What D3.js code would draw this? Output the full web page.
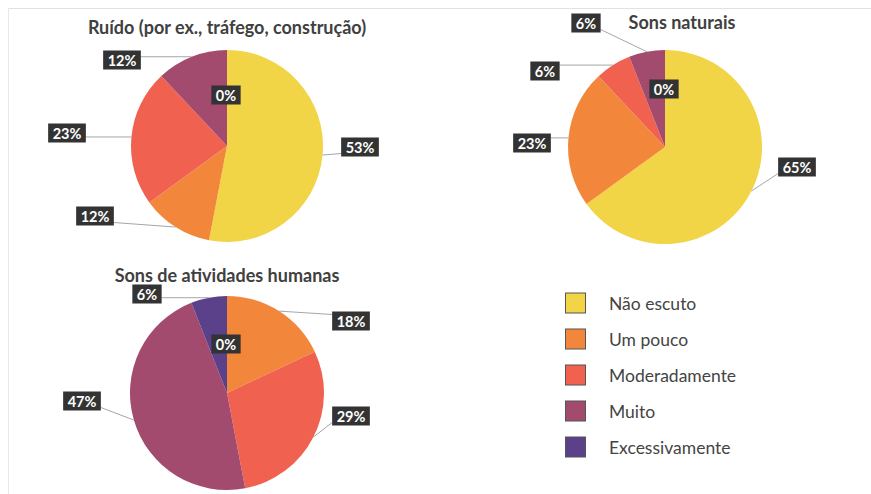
<!DOCTYPE html>
<html>
<head>
<meta charset="utf-8">
<script src="https://cdn.jsdelivr.net/npm/d3@7"></script>
<style>
  html, body { margin: 0; padding: 0; background: #fff; }
  svg { display: block; }
</style>
</head>
<body>
<svg id="chart" width="871" height="494"></svg>
<script>
// ---------- DATA ----------
const categories = ["Não escuto", "Um pouco", "Moderadamente", "Muito", "Excessivamente"];
const titles = ["Ruído (por ex., tráfego, construção)", "Sons naturais", "Sons de atividades humanas"];
const ruidoValues = [53, 12, 23, 12, 0];
const naturaisValues = [65, 23, 6, 6, 0];
const humanasValues = [0, 18, 29, 47, 6];

// ---------- LAYOUT / STYLE ----------
const colors = ["#F2D447", "#F2873B", "#F0624F", "#A34A6F", "#5B418A"];
const panels = [
  { values: ruidoValues, cx: 227, cy: 146, r: 96, titleX: 227, titleY: 34,
    labelOffsets: [[133, 1], [-132, 70], [-160, -13], [-105, -86], [-1, -51]] },
  { values: naturaisValues, cx: 665, cy: 147, r: 97, titleX: 682, titleY: 29,
    labelOffsets: [[132, 20], [-133, -4], [-120, -76], [-79, -124], [-1, -58]] },
  { values: humanasValues, cx: 227, cy: 393, r: 97, titleX: 227, titleY: 282,
    labelOffsets: [[-1, -49], [124, -72], [124, 23], [-145, 8], [-80, -99]] }
];

const svg = d3.select("#chart");
const color = d3.scaleOrdinal().domain(categories).range(colors);

// faint frame lines of the original screenshot
svg.append("line").attr("x1", 8).attr("x2", 871).attr("y1", 8.5).attr("y2", 8.5)
  .attr("stroke", "#e2e2e2").attr("stroke-width", 1);
svg.append("line").attr("x1", 8.5).attr("x2", 8.5).attr("y1", 8).attr("y2", 494)
  .attr("stroke", "#e8e8e8").attr("stroke-width", 1);

const pie = d3.pie().sort(null).value(d => d.value);

panels.forEach((p, pi) => {
  const g = svg.append("g").attr("transform", `translate(${p.cx},${p.cy})`);
  const data = categories.map((c, i) => ({ cat: c, value: p.values[i], off: p.labelOffsets[i] }));
  const arcs = pie(data);
  const arc = d3.arc().innerRadius(0).outerRadius(p.r);

  g.selectAll("path.slice").data(arcs.filter(a => a.data.value > 0)).join("path")
    .attr("class", "slice")
    .attr("d", arc)
    .attr("fill", d => color(d.data.cat));

  // title
  svg.append("text")
    .attr("x", p.titleX).attr("y", p.titleY)
    .attr("text-anchor", "middle")
    .attr("font-family", "Lato, 'Open Sans', sans-serif")
    .attr("font-weight", "bold")
    .attr("font-size", 18)
    .attr("fill", "#404040")
    .text(titles[pi]);

  // labels
  const labelG = g.append("g");
  arcs.forEach(a => {
    const mid = (a.startAngle + a.endAngle) / 2;
    const lx = a.data.off[0], ly = a.data.off[1];
    const txt = a.data.value + "%";
    const lab = labelG.append("g");
    const t = lab.append("text")
      .attr("x", lx).attr("y", ly + 0.5)
      .attr("text-anchor", "middle")
      .attr("dominant-baseline", "central")
      .attr("font-family", "Lato, 'Open Sans', sans-serif")
      .attr("font-weight", "bold")
      .attr("font-size", 14.5)
      .attr("fill", "#ffffff")
      .text(txt);
    const w = t.node().getComputedTextLength() + 9;
    const h = 19;
    const bx = lx - w / 2, by = ly - h / 2;
    lab.insert("rect", "text")
      .attr("x", bx).attr("y", by).attr("width", w).attr("height", h)
      .attr("fill", "#333333");
    if (a.data.value > 0) {
      const px = Math.sin(mid) * p.r, py = -Math.cos(mid) * p.r;
      let ex, ey;
      if (px > lx + w / 2) ex = bx + w;
      else if (px < lx - w / 2) ex = bx;
      else ex = Math.max(bx, Math.min(bx + w, px));
      ey = Math.max(by + 3, Math.min(by + h - 3, py));
      if (px >= bx && px <= bx + w) ey = py > ly ? by + h : by;
      labelG.insert("line", ":first-child")
        .attr("x1", px).attr("y1", py).attr("x2", ex).attr("y2", ey)
        .attr("stroke", "#a6a6a6").attr("stroke-width", 1);
    }
  });
});

// ---------- LEGEND ----------
const legendY = d3.scalePoint().domain(categories).range([303, 447]);
const legend = svg.append("g");
const items = legend.selectAll("g").data(categories).join("g")
  .attr("transform", d => `translate(565,${legendY(d)})`);
items.append("rect")
  .attr("x", 0.5).attr("y", -10).attr("width", 20).attr("height", 20)
  .attr("fill", d => color(d)).attr("stroke", "#555").attr("stroke-width", 1);
items.append("text")
  .attr("x", 44).attr("y", 0)
  .attr("dominant-baseline", "central")
  .attr("font-family", "Lato, 'Open Sans', sans-serif")
  .attr("font-size", 17.5)
  .attr("fill", "#444")
  .text(d => d);
</script>
</body>
</html>
